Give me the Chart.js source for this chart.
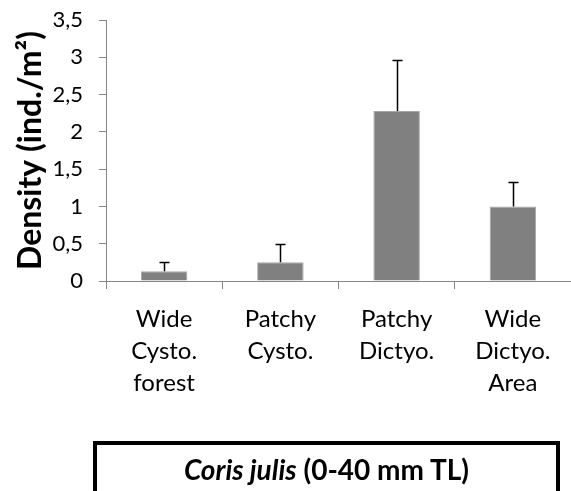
<!DOCTYPE html>
<html>
<head>
<meta charset="utf-8">
<script src="https://cdn.jsdelivr.net/npm/chart.js@4/dist/chart.umd.min.js"></script>
<style>
  html, body { margin: 0; padding: 0; background: #fff; overflow: hidden; }
  #wrap { position: relative; width: 571px; height: 491px; overflow: hidden; }
  #c { position: absolute; left: 0; top: 0; }
  #box {
    position: absolute; left: 93px; top: 441px; width: 459px; height: 80px;
    border: 4px solid #000; box-sizing: content-box;
    font-family: Lato, "Open Sans", sans-serif; font-weight: bold; font-size: 28px;
    text-align: center; color: #000; line-height: 1;
  }
  #box span.t { position: absolute; left: 0; right: 0; top: 10px; }
</style>
</head>
<body>
<div id="wrap">
  <canvas id="c" width="571" height="491"></canvas>
  <div id="box"><span class="t"><i>Coris julis</i> (0-40 mm TL)</span></div>
</div>
<script>
const categories = [
  ['Wide', 'Cysto.', 'forest'],
  ['Patchy', 'Cysto.'],
  ['Patchy', 'Dictyo.'],
  ['Wide', 'Dictyo.', 'Area']
];
const densityValues = [0.13, 0.25, 2.28, 1.00];
const errorValues = [0.13, 0.25, 0.68, 0.33];
const yTickLabels = ['0', '0,5', '1', '1,5', '2', '2,5', '3', '3,5'];
const yAxisTitle = 'Density (ind./m²)';

const axisGray = '#868686';

const errorBarPlugin = {
  id: 'errorBars',
  afterDatasetsDraw(chart) {
    const meta = chart.getDatasetMeta(0);
    const yScale = chart.scales.y;
    const ctx = chart.ctx;
    ctx.save();
    ctx.strokeStyle = '#000';
    ctx.lineWidth = 1.5;
    meta.data.forEach((bar, i) => {
      const x = Math.round(bar.x) + 0.5;
      const yBase = yScale.getPixelForValue(densityValues[i]);
      const yTop = Math.round(yScale.getPixelForValue(densityValues[i] + errorValues[i])) + 0.5;
      ctx.beginPath();
      ctx.moveTo(x, yBase);
      ctx.lineTo(x, yTop);
      ctx.moveTo(x - 5, yTop);
      ctx.lineTo(x + 5, yTop);
      ctx.stroke();
    });
    ctx.restore();
  }
};

new Chart(document.getElementById('c'), {
  type: 'bar',
  data: {
    labels: categories,
    datasets: [{
      data: densityValues,
      backgroundColor: '#808080',
      borderColor: '#a6a6a6',
      borderWidth: 1,
      categoryPercentage: 1,
      barPercentage: 0.4
    }]
  },
  options: {
    responsive: false,
    animation: false,
    devicePixelRatio: 1,
    layout: { padding: { top: 20, left: 0, right: 0, bottom: 0 } },
    plugins: { legend: { display: false }, tooltip: { enabled: false } },
    scales: {
      x: {
        afterFit(scale) { scale.height = 210; scale.paddingLeft = 0; scale.paddingRight = 0; },
        grid: { display: true, drawOnChartArea: false, offset: true, tickLength: 8, color: axisGray, lineWidth: 1 },
        border: { display: true, color: axisGray, width: 1 },
        ticks: {
          maxRotation: 0, autoSkip: false, padding: 14, color: '#000',
          font: { family: 'Lato, "Open Sans", sans-serif', size: 24, lineHeight: '32px' }
        }
      },
      y: {
        min: 0, max: 3.5,
        afterFit(scale) { scale.width = 106; scale.paddingTop = 0; scale.paddingBottom = 0; },
        grid: { display: true, drawOnChartArea: false, tickLength: 7, color: axisGray, lineWidth: 1 },
        border: { display: true, color: axisGray, width: 1 },
        ticks: {
          stepSize: 0.5, padding: 16, color: '#000',
          font: { family: 'Lato, "Open Sans", sans-serif', size: 22 },
          callback: (v, i) => yTickLabels[i]
        },
        title: {
          display: true, text: yAxisTitle, color: '#000',
          padding: { top: 12, bottom: 0 },
          font: { family: 'Lato, "Open Sans", sans-serif', size: 32, weight: 'bold', lineHeight: 1.15 }
        }
      }
    }
  },
  plugins: [errorBarPlugin]
});
</script>
</body>
</html>
